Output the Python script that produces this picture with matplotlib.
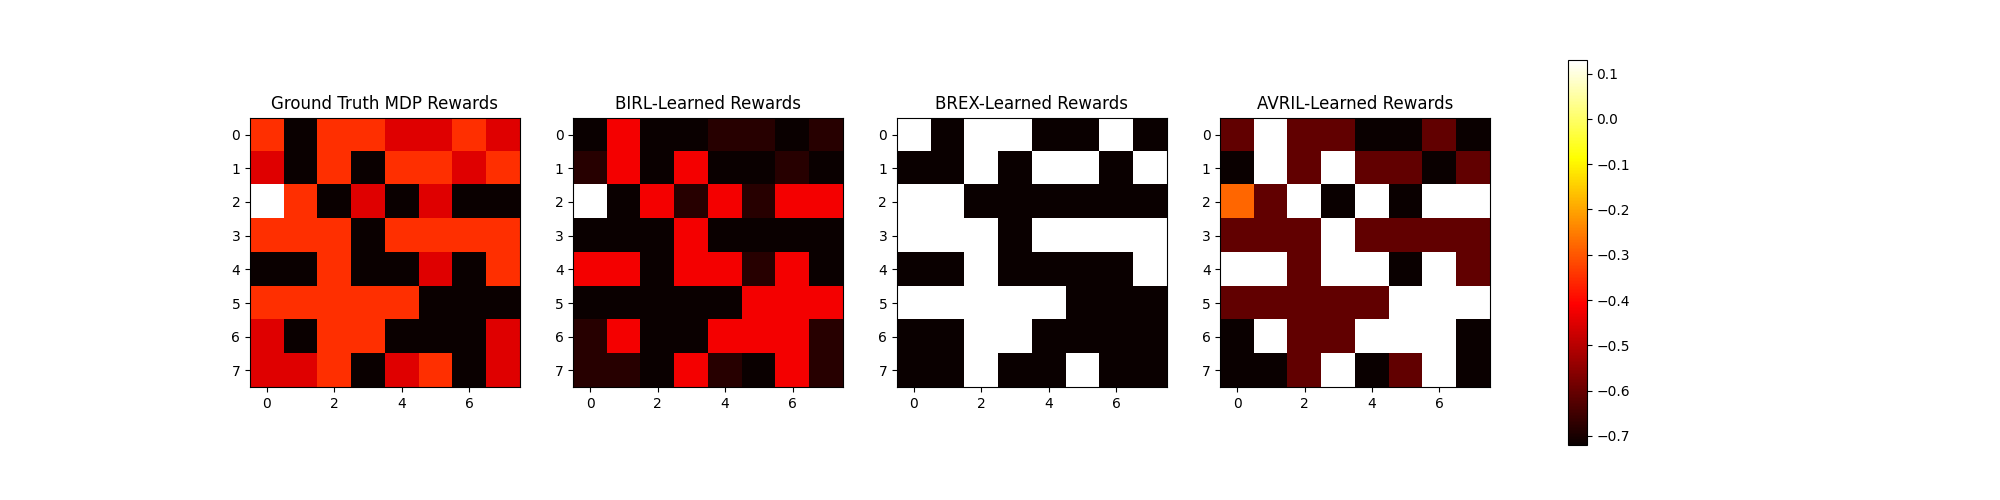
import numpy as np
import matplotlib
matplotlib.use("Agg")
import matplotlib.pyplot as plt

titulos = ["Ground Truth MDP Rewards", "BIRL-Learned Rewards",
           "BREX-Learned Rewards", "AVRIL-Learned Rewards"]

# recompensas, 8x8 por metodo
verdad = np.array([
    [-0.13, -1.00, -0.13, -0.13, -0.36, -0.36, -0.13, -0.36],
    [-0.36, -1.00, -0.13, -1.00, -0.13, -0.13, -0.36, -0.13],
    [ 1.00, -0.13, -1.00, -0.36, -1.00, -0.36, -1.00, -1.00],
    [-0.13, -0.13, -0.13, -1.00, -0.13, -0.13, -0.13, -0.13],
    [-1.00, -1.00, -0.13, -1.00, -1.00, -0.36, -1.00, -0.13],
    [-0.13, -0.13, -0.13, -0.13, -0.13, -1.00, -1.00, -1.00],
    [-0.36, -1.00, -0.13, -0.13, -1.00, -1.00, -1.00, -0.36],
    [-0.36, -0.36, -0.13, -1.00, -0.36, -0.13, -1.00, -0.36],
])

birl = np.array([
    [-1.00, -0.30, -1.00, -1.00, -0.91, -0.91, -1.00, -0.91],
    [-0.91, -0.30, -1.00, -0.30, -1.00, -1.00, -0.91, -1.00],
    [ 1.00, -1.00, -0.30, -0.91, -0.30, -0.91, -0.30, -0.30],
    [-1.00, -1.00, -1.00, -0.30, -1.00, -1.00, -1.00, -1.00],
    [-0.30, -0.30, -1.00, -0.30, -0.30, -0.91, -0.30, -1.00],
    [-1.00, -1.00, -1.00, -1.00, -1.00, -0.30, -0.30, -0.30],
    [-0.91, -0.30, -1.00, -1.00, -0.30, -0.30, -0.30, -0.91],
    [-0.91, -0.91, -1.00, -0.30, -0.91, -1.00, -0.30, -0.91],
])

brex = np.array([
    [ 1, -1,  1,  1, -1, -1,  1, -1],
    [-1, -1,  1, -1,  1,  1, -1,  1],
    [ 1,  1, -1, -1, -1, -1, -1, -1],
    [ 1,  1,  1, -1,  1,  1,  1,  1],
    [-1, -1,  1, -1, -1, -1, -1,  1],
    [ 1,  1,  1,  1,  1, -1, -1, -1],
    [-1, -1,  1,  1, -1, -1, -1, -1],
    [-1, -1,  1, -1, -1,  1, -1, -1],
])

avril = np.array([
    [-0.61,  0.13, -0.61, -0.61, -0.72, -0.72, -0.61, -0.72],
    [-0.72,  0.13, -0.61,  0.13, -0.61, -0.61, -0.72, -0.61],
    [-0.28, -0.61,  0.13, -0.72,  0.13, -0.72,  0.13,  0.13],
    [-0.61, -0.61, -0.61,  0.13, -0.61, -0.61, -0.61, -0.61],
    [ 0.13,  0.13, -0.61,  0.13,  0.13, -0.72,  0.13, -0.61],
    [-0.61, -0.61, -0.61, -0.61, -0.61,  0.13,  0.13,  0.13],
    [-0.72,  0.13, -0.61, -0.61,  0.13,  0.13,  0.13, -0.72],
    [-0.72, -0.72, -0.61,  0.13, -0.72, -0.61,  0.13, -0.72],
])

mapas = [verdad, birl, brex, avril]

fig, axes = plt.subplots(1, 4, figsize=(20, 5), dpi=100)
for ax, m, t in zip(axes, mapas, titulos):
    im = ax.imshow(m, cmap="hot")
    ax.set_title(t)
fig.colorbar(im, ax=axes)
plt.savefig("out.png")
